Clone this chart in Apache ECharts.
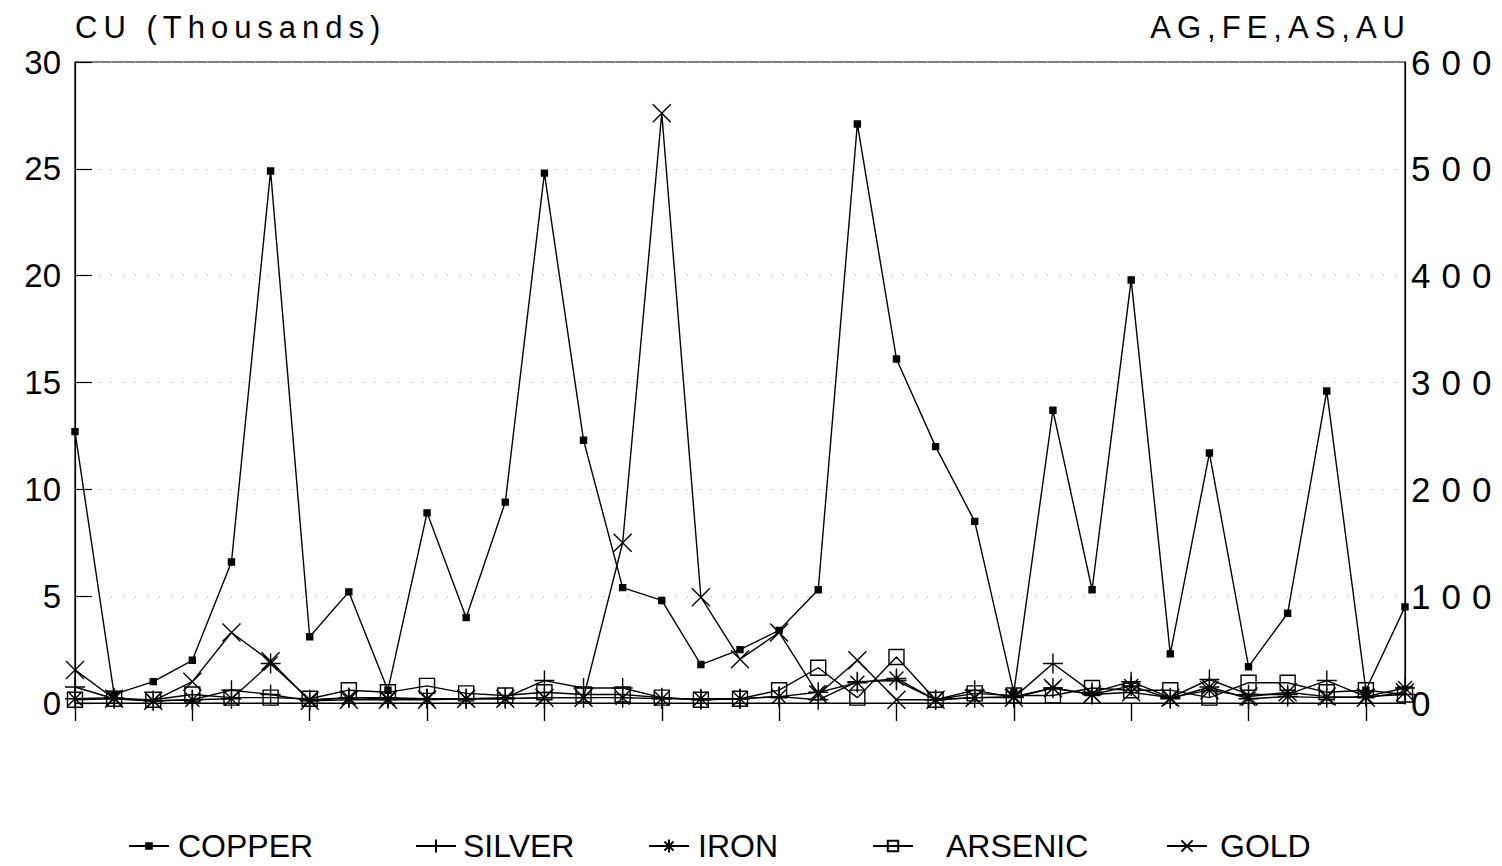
<!DOCTYPE html>
<html>
<head>
<meta charset="utf-8">
<script src="https://cdn.jsdelivr.net/npm/echarts@6/dist/echarts.min.js"></script>
<style>
  html, body { margin: 0; padding: 0; background: #fff; }
  #chart { width: 1502px; height: 866px; }
  /* wide plotter-style tracking for the headings and the right-hand scale */
  #chart text[style*="31px"] { letter-spacing: 6px; }
  #chart text[style*="35px"] { letter-spacing: 11px; }
</style>
</head>
<body>
<div id="chart"></div>
<script>
// sample positions along the traverse
const samples = ['1','2','3','4','5','6','7','8','9','10','11','12','13','14','15','16','17','18',
                 '19','20','21','22','23','24','25','26','27','28','29','30','31','32','33','34','35'];

// copper, thousands (left scale)
const copper  = [12.7, 0.4, 1.0, 2.0, 6.6, 24.9, 3.1, 5.2, 0.6, 8.9, 4.0, 9.4, 24.8, 12.3, 5.4, 4.8, 1.8, 2.5,
                 3.4, 5.3, 27.1, 16.1, 12.0, 8.5, 0.5, 13.7, 5.3, 19.8, 2.3, 11.7, 1.7, 4.2, 14.6, 0.6, 4.5];
// right scale
const silver  = [15, 4, 2, 3, 12, 8, 2, 5, 5, 4, 4, 5, 21, 14, 14, 5, 3, 4,
                 6, 3, 20, 21, 3, 12, 5, 37, 10, 20, 5, 22, 8, 8, 21, 6, 8];
const iron    = [4, 5, 2, 3, 4, 37, 3, 5, 4, 4, 4, 4, 5, 5, 5, 4, 4, 4,
                 6, 10, 19, 23, 3, 5, 6, 14, 8, 16, 4, 15, 4, 6, 5, 6, 14];
const arsenic = [3, 4, 3, 8, 5, 5, 4, 12, 10, 16, 9, 7, 10, 8, 8, 5, 3, 4,
                 12, 33, 5, 43, 3, 9, 7, 7, 14, 12, 12, 5, 19, 19, 10, 12, 8];
const gold    = [31, 4, 2, 20, 66, 39, 2, 3, 3, 3, 4, 4, 5, 5, 150, 552, 99, 41,
                 66, 8, 40, 3, 3, 5, 5, 14, 8, 10, 5, 12, 6, 10, 6, 5, 10];

const leftTicks  = { min: 0, max: 30, interval: 5 };
const rightTicks = { min: 0, max: 600, interval: 100 };

const FONT = "'Liberation Sans', Arial, sans-serif";
const INK = '#000';

// stroked marker shapes
const PLUS  = 'path://M5,0L5,10M0,5L10,5';
const STAR  = 'path://M5,0L5,10M0,5L10,5M1.5,1.5L8.5,8.5M8.5,1.5L1.5,8.5';
const CROSS = 'path://M0,0L10,10M10,0L0,10';

function lineSeries(name, data, axis, symbol, size, fill) {
  return {
    name, type: 'line', data, yAxisIndex: axis,
    symbol, symbolSize: size, showAllSymbol: true,
    lineStyle: { color: INK, width: 1.4 },
    itemStyle: { color: fill, borderColor: INK, borderWidth: 1.4 },
    emphasis: { disabled: true },
    z: axis === 0 ? 5 : 3
  };
}

// one legend block per element: [name, left edge, marker height, gap before text]
const legendSlots = [
  ['COPPER', 128, 7, 4],
  ['SILVER', 415, 16, 2],
  ['IRON', 648, 16, 4],
  ['ARSENIC', 872, 13, 28],
  ['GOLD', 1166, 14, 8]
];
const legends = legendSlots.map(([name, left, h, pad]) => ({
  left, top: 830, itemWidth: 40, itemHeight: h, itemGap: 0, padding: 0,
  data: [name], selectedMode: false,
  textStyle: { fontFamily: FONT, fontSize: 32, lineHeight: 32, color: INK, padding: [0, 0, 0, pad] }
}));

const chart = echarts.init(document.getElementById('chart'), null, { renderer: 'svg' });
chart.setOption({
  animation: false,
  backgroundColor: '#fff',
  grid: { left: 75, right: 97, top: 62, bottom: 163, show: true, borderColor: INK, borderWidth: 1.2 },
  graphic: [
    { type: 'text', x: 75, y: 27,
      style: { text: 'CU (Thousands)', font: "31px " + FONT, fill: INK, textAlign: 'left', textVerticalAlign: 'middle', verticalAlign: 'middle' } },
    { type: 'text', x: 1411, y: 27,
      style: { text: 'AG,FE,AS,AU', font: "31px " + FONT, fill: INK, textAlign: 'right', textVerticalAlign: 'middle', verticalAlign: 'middle' } }
  ],
  legend: legends,
  xAxis: {
    type: 'category', data: samples, boundaryGap: false,
    axisLine: { show: true, lineStyle: { color: INK, width: 1.2 } },
    axisTick: { show: true, interval: 2, length: 18, lineStyle: { color: INK, width: 1.4 } },
    axisLabel: { show: false },
    splitLine: { show: false }
  },
  yAxis: [
    {
      type: 'value', position: 'left', ...leftTicks,
      axisLine: { show: true, lineStyle: { color: INK, width: 1.2 } },
      axisTick: { show: true, inside: true, length: 17, lineStyle: { color: INK, width: 1.2 } },
      axisLabel: { fontFamily: FONT, fontSize: 33, color: INK, margin: 14 },
      splitLine: { show: true, lineStyle: { color: '#bbb', width: 1, type: [1, 11] } }
    },
    {
      type: 'value', position: 'right', ...rightTicks,
      axisLine: { show: true, lineStyle: { color: INK, width: 1.2 } },
      axisTick: { show: false },
      axisLabel: { fontFamily: FONT, fontSize: 35, color: INK, margin: 6 },
      splitLine: { show: false }
    }
  ],
  series: [
    lineSeries('COPPER',  copper,  0, 'rect', 6, INK),
    lineSeries('SILVER',  silver,  1, PLUS, 20, INK),
    lineSeries('IRON',    iron,    1, STAR, 20, INK),
    lineSeries('ARSENIC', arsenic, 1, 'rect', 15, 'rgba(0,0,0,0)'),
    lineSeries('GOLD',    gold,    1, CROSS, 18, INK)
  ]
});
</script>
</body>
</html>
